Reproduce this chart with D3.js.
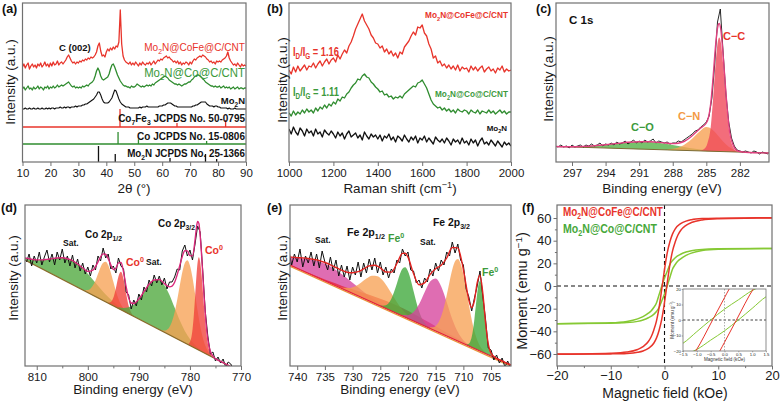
<!DOCTYPE html>
<html><head><meta charset="utf-8">
<script src="https://cdn.jsdelivr.net/npm/d3@7"></script>
<style>body{margin:0;background:#fff;}</style>
</head><body>
<script>
// ================= DATA =================
// (a) XRD, 2θ from 10 to 90 step 0.5
const xrdStart = 10, xrdStep = 0.5;
const xrdCoFe = [95,98,94,97,99,93,96,98,95,97, 94,98,96,99,95,97,100,96,98,95, 99,96,100,97,98,101,97,99,100,98,
 100,102,105,107,104,101,99,100,98,100, 99,101,100,102,101,103,102,104,103,105, 104,105,107,110,116,119,111,106,107,105,
 110,113,111,114,112,115,113,116,115,120, 152,118,106,102,100,99,98,100,97,99, 97,100,98,96,99,97,100,98,97,99,
 98,100,97,99,101,98,100,102,101,103, 102,104,105,106,104,105,103,102,100,101, 99,101,98,100,97,99,98,100,99,97,
 100,98,101,103,102,104,105,106,105,107, 106,105,103,102,100,101,99,100,98,101, 100,101,100,102,103,104,106,110,104,101,
 99,97,98,96,99,97,95,98,96,97, 96];
const xrdCo = [73,75,72,74,76,73,74,72,75,73, 74,76,73,75,74,72,75,74,76,73, 75,74,76,74,75,77,75,76,77,76,
 77,78,79,80,78,76,75,76,74,75, 74,75,74,76,75,76,77,76,78,79, 80,82,86,91,94,91,86,83,82,83,
 84,85,88,93,97,98,95,91,87,84, 81,79,77,76,76,75,75,74,76,75, 75,76,78,77,76,75,76,75,76,77,
 76,77,76,78,77,79,80,81,82,83, 84,85,86,85,84,82,81,80,79,78, 78,77,78,77,76,77,78,78,79,80,
 80,82,83,85,86,87,87,86,85,83, 82,80,79,78,77,76,76,75,76,75, 75,76,74,75,76,74,75,74,75,73,
 74,75,73,74,75,73,74,74,73,74, 74];
const xrdMo2N = [53,53,54,53,53,54,53,53,54,53, 53,54,53,53,54,53,53,54,53,54, 53,54,54,53,54,54,54,55,54,54,
 55,54,55,55,54,55,55,55,56,55, 56,56,56,57,57,58,58,59,60,61, 62,63,65,67,70,70,67,63,60,59,
 59,59,60,62,64,68,72,71,67,63, 60,58,57,56,55,55,55,54,54,54, 54,54,54,54,55,54,55,55,55,56,
 55,55,55,55,55,55,55,55,56,56, 56,57,57,58,59,59,59,58,57,56, 56,55,55,55,55,55,55,55,55,55,
 55,55,56,56,57,57,58,59,60,60, 60,60,58,57,56,56,56,55,56,56, 55,55,54,54,54,54,54,53,54,53,
 53,53,54,53,53,53,53,53,53,53, 53];
// reference patterns (position, relative intensity)
const co7fe3Pos = [44.9, 65.3, 82.7], co7fe3Int = [100, 22, 38];
const coPos = [44.2, 51.5, 75.9], coInt = [100, 40, 25];
const mo2nPos = [37.2, 43.2, 62.8, 75.5, 79.5], mo2nInt = [100, 50, 25, 50, 18];
const xrdTicks = [10,20,30,40,50,60,70,80,90];

// (b) Raman, 1000..2000 step 10
const ramanStart = 1000, ramanStep = 10;
const ramanCoFe = [92,88,95,90,96,91,94,97,92,96, 95,99,94,98,101,96,100,103,98,102, 104,100,107,103,108,112,109,116,120,126,
 133,138,143,148,141,137,133,127,124,119, 118,114,116,110,113,108,111,106,109,104, 110,108,115,118,121,126,130,127,135,134,
 137,129,126,118,113,104,106,99,101,96, 98,94,97,93,96,92,97,91,95,93, 94,90,96,92,95,91,94,96,90,93,
 95,91,93,89,94,92,96,90,93,91, 92];
const ramanCo = [49,46,51,47,50,48,52,49,53,50, 52,49,54,51,55,53,57,54,58,56, 60,58,63,61,65,64,68,70,74,77,
 79,83,82,86,88,85,84,80,78,75, 73,70,71,67,68,65,66,63,65,64, 66,64,68,70,72,74,76,75,79,80,
 82,78,74,68,62,58,56,54,55,52, 54,51,53,50,52,49,53,51,50,52, 51,48,52,50,49,52,48,51,50,49,
 52,49,51,48,50,52,49,51,48,50, 50];
const ramanMo2N = [33,28,35,30,27,34,31,26,33,29, 31,26,33,28,30,25,32,29,27,31, 28,24,30,26,29,23,28,31,25,27,
 29,24,27,22,30,26,23,28,25,27, 23,27,21,26,24,28,22,25,20,26, 24,21,27,23,20,25,22,26,19,24,
 22,26,20,24,21,18,25,22,20,23, 19,24,21,17,23,20,22,18,24,19, 21,17,23,19,22,16,21,24,18,20,
 17,22,19,16,21,18,15,20,17,19, 16];
const ramanTicks = [1000,1200,1400,1600,1800,2000];

// (c) C 1s, 298.5 down to 279.5 step 0.25
const c1sStart = 298.5, c1sStep = -0.25;
const c1sData = [16,15,17,15,16,14,17,15,16,17, 15,17,16,18,16,17,19,16,18,17, 19,17,20,18,19,21,18,20,22,19,
 21,19,22,20,21,23,19,21,20,19, 20,18,19,19,21,20,22,24,26,28, 31,32,35,37,40,46,64,98,140,153,
 110,68,40,24,16,12,11,10,11,10, 9,11,10,8,10,9,8];
const c1sBackground = [[298.5,15.5],[279.4,9]];
const c1sCC = [[285.6,0],[285.2,2],[284.9,8],[284.6,25],[284.4,52],[284.2,84],[284.0,108],[283.85,114],[283.7,109],[283.5,88],[283.3,60],[283.1,34],[282.9,16],[282.6,5],[282.2,0]];
const c1sCN = [[288.5,0.5],[288,1.2],[287.5,2.8],[287,5.5],[286.5,9.5],[286,15],[285.5,20.5],[285,24],[284.5,22],[284,16.5],[283.5,10],[283,5],[282.5,2],[282,0.6],[281.5,0]];
const c1sCO = [[298,0.1],[297.5,0.3],[296.5,0.7],[295.5,1.5],[294.5,2.6],[293.5,4.2],[292.5,5.8],[291.5,7.0],[290.5,7.5],[289.5,7.0],[288.5,5.8],[287.5,4.2],[286.5,2.6],[285.5,1.5],[284.5,0.7],[283.5,0.3],[282.5,0]];
const c1sEnvelope = [[298.5,15.6],[297,15.2],[296,15.6],[295,16.3],[294,17.3],[293,18.5],[292,19.7],[291,20.3],[290,20.2],[289,19.4],[288,18.4],[287.5,18.8],[287,20.5],[286.5,24],[286,29],[285.5,34],[285,39],[284.8,45],[284.6,59],[284.4,84],[284.2,113],[284.0,134],[283.85,138.5],[283.7,132],[283.5,107],[283.3,77],[283.1,49],[282.9,29],[282.6,17],[282.2,11],[281.5,9.8],[279.4,9]];
const c1sTicks = [297,294,291,288,285,282];

// (d) Co 2p, 812 down to 770 step 0.5
const co2pStart = 812, co2pStep = -0.5;
const co2pData = [104,112,100,110,103,114,101,109,116,104, 112,101,114,106,117,103,110,100,111,98,
 107,95,103,92,99,90,101,96,110,105, 118,108,112,97,100,93,108,100,97,74,
 71,57,66,60,72,66,79,74,86,80, 91,83,90,81,88,77,84,84,89,97,
 96,115,121,110,116,106,122,140,134,96, 55,30,12,14,5,9,3,7,-1,4, 2,-3,-5,-2,-6];
const co2pBackground = [[812.3,106],[770,-6]];
const co2pSat1 = [[813,1.5],[812,2.5],[811,4.1],[810,6.2],[809,8.8],[808,12],[807,15.4],[806,18.7],[805,21.5],[804,23.3],[803,24],[802,23.3],[801,21.5],[800,18.7],[799,15.4],[798,12],[797,8.8],[796,6.2],[795,4.1],[794,2.5],[793,1.5],[792,0.8],[791,0.4]];
const co2p12 = [[800.5,1.1],[800,2.5],[799.5,5.2],[799,9.7],[798.5,16],[798,24],[797.5,32],[797,37.8],[796.5,40],[796,37.8],[795.5,32],[795,24],[794.5,16],[794,9.7],[793.5,5.2],[793,2.5],[792.5,1.1]];
const co2pCo0a = [[796,0.5],[795.5,2.4],[795,8],[794.5,19],[794,32],[793.5,38],[793,32],[792.5,19],[792,8],[791.5,2.4],[791,0.5]];
const co2pSat2 = [[794,1.3],[793,3.1],[792,6.5],[791,12],[790,20],[789,30],[788,40],[787,47],[786,50],[785,47],[784,40],[783,30],[782,20],[781,12],[780,6.5],[779,3.1],[778,1.3]];
const co2p32 = [[785.5,0.7],[785,1.7],[784.5,3.9],[784,8],[783.5,15],[783,25.3],[782.5,39],[782,54.5],[781.5,69.3],[781,80],[780.5,84],[780,80],[779.5,69.3],[779,54.5],[778.5,39],[778,25.3],[777.5,15],[777,8],[776.5,3.9],[776,1.7],[775.5,0.7]];
const co2pCo0b = [[780.25,1.2],[780,3.4],[779.75,8.1],[779.5,17.1],[779.25,31.5],[779,50.6],[778.75,71],[778.5,87],[778.25,93],[778,89],[777.75,78],[777.5,63],[777.25,46.5],[777,31.5],[776.75,19.5],[776.5,11.2],[776.25,5.8],[775.75,1.2],[775.25,0]];
const co2pEnvelope = [[812.3,108],[811,106.7],[810,106.1],[809,106.1],[808,106.6],[807,107.4],[806,108],[805,108.2],[804,107.3],[803,105.4],[802,102],[801,98],[800,94.6],[799,95.9],[798,104.1],[797.5,109.2],[797,112.1],[796.5,111.8],[796,107.4],[795.5,101.1],[795,96.4],[794.5,97.8],[794,103.1],[793.5,103.5],[793,94],[792.5,79.4],[792,68.1],[791.5,63],[791,62.5],[790,67],[789,74.3],[788,81.7],[787,86],[786,86.4],[785,82.4],[784,79.1],[783.5,79.8],[783,83.7],[782.5,91.1],[782,100.3],[781.5,109.6],[781,115.2],[780.5,115.1],[780,110.4],[779.5,110.1],[779,126],[778.75,137.5],[778.5,144.6],[778.25,142.6],[778,130.8],[777.75,113.6],[777.5,92.7],[777.25,71.3],[777,52.6],[776.75,37.2],[776.5,26.4],[776,14.7],[775.5,9.9],[775,7.3],[774,4.7],[773,2],[772,-0.6],[770,-5.8]];
const co2pTicks = [810,800,790,780,770], co2pMinor = [805,795,785,775];

// (e) Fe 2p, 741.5 down to 701.5 step 0.5
const fe2pStart = 741.5, fe2pStep = -0.5;
const fe2pData = [115,101,112,104,117,99,110,103,114,100, 112,98,115,104,96,109,95,106,90,101,
 89,100,86,99,91,104,89,103,93,107, 96,108,93,104,91,99,88,97,93,106,
 103,117,110,114,96,95,83,86,78,88, 84,97,90,103,95,106,101,114,110,124,
 113,122,106,101,77,69,55,68,80,95, 70,47,18,16,6,11,3,8,-1,5, -2];
const fe2pBackground = [[741.3,101],[701.4,0.9]];
const fe2pSat1 = [[742,6.6],[741,8.5],[740,10.5],[739,12.5],[738,14.3],[737,15.7],[736,16.7],[735,17],[734,16.7],[733,15.7],[732,14.3],[731,12.5],[730,10.5],[729,8.5],[728,6.6],[727,4.9],[726,3.6],[725,2.5],[724,1.6],[723,1.1],[721,0.4],[719,0]];
const fe2pBroad = [[742,0.1],[740,0.24],[738,0.5],[736,1.0],[734,1.7],[732,2.7],[730,4],[728,5.4],[726,6.7],[724,7.7],[722,8],[720,7.7],[718,6.7],[716,5.4],[714,4],[712,2.7],[710,1.7],[708,1.0],[706,0.5],[704,0.24],[702,0.1]];
const fe2p12 = [[733.5,0.2],[732.5,0.7],[731.5,1.8],[730.5,4.2],[729.5,8.3],[728.5,14.3],[727.5,21],[726.5,26.4],[725.5,28.5],[724.5,26.4],[723.5,21],[722.5,14.3],[721.5,8.3],[720.5,4.2],[719.5,1.8],[718.5,0.7],[717.5,0.2]];
const fe2pFe0a = [[725,0.55],[724.5,1.35],[724,3.1],[723.5,6.5],[723,12.2],[722.5,20.3],[722,30],[721.5,40],[721,47.3],[720.5,50],[720,47.3],[719.5,40],[719,30],[718.5,20.3],[718,12.2],[717.5,6.5],[717,3.1],[716.5,1.35],[716,0.55]];
const fe2pSat2 = [[722,0],[721,0.9],[720,3.3],[719,8.9],[718,19.3],[717,33.7],[716,47],[715,52.5],[714,47],[713,33.7],[712,19.3],[711,8.9],[710,3.3],[709,0.9],[708,0]];
const fe2p32 = [[716,1.1],[715.5,2.5],[715,5.1],[714.5,9.8],[714,17.2],[713.5,27.8],[713,41],[712.5,55.5],[712,69],[711.5,78.6],[711,82],[710.5,78.6],[710,69],[709.5,55.5],[709,41],[708.5,27.8],[708,17.2],[707.5,9.8],[707,5.1],[706.5,2.5],[706,1.1]];
const fe2pFe0b = [[709.5,0.3],[709,2.3],[708.75,5.1],[708.5,10.2],[708.25,18.4],[708,29.8],[707.75,43.3],[707.5,56.5],[707.25,66.4],[707,70],[706.75,66.4],[706.5,56.5],[706.25,43.3],[706,29.8],[705.75,18.4],[705.5,10.2],[705.25,5.1],[705,2.3],[704.5,0.3]];
const fe2pEnvelope = [[741.5,109.2],[741,108.9],[740,108.4],[739,108.1],[738,107.5],[737,106.6],[736,105.4],[735,103.5],[734,101.2],[733,98.5],[732,95.9],[731,93.8],[730,93.2],[729,94.3],[728,97.1],[727,100.1],[726,100.7],[725,98.2],[724,94],[723,93.9],[722,102.5],[721,112.6],[720.5,112.7],[720,108.9],[719,92.4],[718,81.2],[717,83.1],[716,91.6],[715,97.3],[714,100.7],[713,108],[712,118.5],[711,118.1],[710.5,109.9],[710,96.5],[709.5,80.6],[709,65.6],[708.5,58.4],[708,65.5],[707.5,83.4],[707,90.9],[706.5,73.4],[706,43.8],[705.5,21.8],[705,12.6],[704,7.7],[703,5.1],[702,2.4],[701.4,0.9]];
const fe2pTicks = [740,735,730,725,720,715,710,705];

// (f) magnetic hysteresis (field kOe, moment emu/g)
const cofeUpH = [-20,-15,-10,-7,-5,-4,-3,-2.5,-2,-1.5,-1.04,-0.43,0,0.17,0.5,1,1.5,2,3,4,5,7,10,15,20];
const cofeUpM = [-60,-59.9,-59.4,-58.3,-56,-53.5,-49,-45,-39,-31,-20,0,14.4,20,29,39,46,50.5,55,57.3,58.5,59.5,59.9,60.1,60.3];
const cofeDnH = [-20,-15,-10,-7,-5,-4,-3,-2,-1.5,-1,-0.5,-0.17,0,0.43,1.04,1.5,2,2.5,3,4,5,7,10,15,20];
const cofeDnM = [-60.3,-60.1,-59.9,-59.5,-58.5,-57.3,-55,-50.5,-46,-39,-29,-20,-14.4,0,20,31,39,45,49,53.5,56,58.3,59.4,59.9,60];
const coUpH = [-20,-10,-7,-5,-4,-3,-2.5,-2,-1.5,-1,-0.5,0,0.5,1,1.5,2,3,4,5,7,10,20];
const coUpM = [-33.2,-32.5,-31.3,-29,-27,-24,-22,-19,-15,-7.5,0,7,13,19,22.5,25,28,30,31.2,32.3,32.8,33.2];
const coDnH = [-20,-10,-7,-5,-4,-3,-2,-1.5,-1,-0.5,0,0.5,1,1.5,2,2.5,3,4,5,7,10,20];
const coDnM = [-33.2,-32.8,-32.3,-31.2,-30,-28,-25,-22.5,-19,-13,-7,0,7.5,15,19,22,24,27,29,31.3,32.5,33.2];
const magXTicks = [-20,-10,0,10,20], magXMinor = [-15,-5,5,15];
const magYTicks = [-60,-40,-20,0,20,40,60], magYMinor = [-50,-30,-10,10,30,50];
const insetXTicks = [-1.5,-1,-0.5,0,0.5,1,1.5], insetYTicks = [-20,-10,0,10,20];

// ================= DRAWING =================
const FONT = '"Liberation Sans", Arial, Helvetica, sans-serif';
const FRAME = '#707070';
const RED = '#e8342b', GREEN = '#2f8c2f', GREENTXT = '#3c9a3c', LIME = '#86c934';
const svg = d3.select('body').append('svg').attr('width', 780).attr('height', 404)
  .style('font-family', FONT);

// rich text with sub/superscripts; fitW squeezes the text horizontally to a given width
function rich(x, y, parts, size, color, anchor = 'start', weight = 'bold', rotate = false, fitW = null) {
  const t = svg.append('text').attr('font-size', size).attr('fill', color)
    .attr('text-anchor', anchor).attr('font-weight', weight);
  let shift = 0;
  for (const [s, m] of parts) {
    const target = m === 'sub' ? size * 0.28 : m === 'sup' ? -size * 0.38 : 0;
    const ts = t.append('tspan').text(s);
    if (target !== shift) ts.attr('dy', target - shift);
    if (m) ts.attr('font-size', size * 0.68);
    shift = target;
  }
  let sx = 1;
  if (fitW) {
    const len = t.node().getComputedTextLength();
    if (len > 0) sx = fitW / len;
  }
  t.attr('transform', `translate(${x},${y})` + (rotate ? ' rotate(-90)' : '') + (sx !== 1 ? ` scale(${sx},1)` : ''));
  return t;
}
let cid = 0;
function panel(l, t, r, b, xd, yd) {
  const x = d3.scaleLinear().domain(xd).range([l, r]);
  const y = d3.scaleLinear().domain(yd).range([b, t]);
  const id = 'cp' + (cid++);
  svg.append('clipPath').attr('id', id).append('rect')
    .attr('x', l).attr('y', t).attr('width', r - l).attr('height', b - t);
  const g = svg.append('g').attr('clip-path', `url(#${id})`);
  return { x, y, g, l, t, r, b };
}
function frame(p, w = 1.2) {
  svg.append('rect').attr('x', p.l).attr('y', p.t).attr('width', p.r - p.l).attr('height', p.b - p.t)
    .attr('fill', 'none').attr('stroke', FRAME).attr('stroke-width', w);
}
function styleAxis(g, size, lw = 1) {
  g.select('.domain').remove();
  g.selectAll('line').attr('stroke', FRAME).attr('stroke-width', lw);
  g.selectAll('text').attr('font-size', size).attr('fill', '#1a1a1a').attr('font-family', FONT);
}
function xAxis(p, ticks, minor, size, fmt, len = 4, pad = 2.5, lw = 1) {
  const g = svg.append('g').attr('transform', `translate(0,${p.b})`)
    .call(d3.axisBottom(p.x).tickValues(ticks).tickSize(len).tickPadding(pad).tickFormat(fmt || (d => d)));
  styleAxis(g, size, lw);
  if (minor) {
    const m = svg.append('g').attr('transform', `translate(0,${p.b})`)
      .call(d3.axisBottom(p.x).tickValues(minor).tickSize(len * 0.6).tickFormat(''));
    styleAxis(m, size, lw);
  }
}
function yAxis(p, ticks, minor, size, fmt, len = 4, pad = 2.5, lw = 1) {
  const g = svg.append('g').attr('transform', `translate(${p.l},0)`)
    .call(d3.axisLeft(p.y).tickValues(ticks).tickSize(len).tickPadding(pad).tickFormat(fmt || (d => d)));
  styleAxis(g, size, lw);
  if (minor) {
    const m = svg.append('g').attr('transform', `translate(${p.l},0)`)
      .call(d3.axisLeft(p.y).tickValues(minor).tickSize(len * 0.6).tickFormat(''));
    styleAxis(m, size, lw);
  }
}
const grid = (start, step, vals) => vals.map((v, i) => [start + step * i, v]);
function line(p, data, color, w, curve) {
  const ln = d3.line().x(d => p.x(d[0])).y(d => p.y(d[1]));
  if (curve) ln.curve(curve);
  p.g.append('path').attr('d', ln(data)).attr('fill', 'none').attr('stroke', color)
    .attr('stroke-width', w).attr('stroke-linejoin', 'round');
}
function comp(p, data, base, color, op = 0.78) {
  const ar = d3.area().x(d => p.x(d[0])).y0(d => p.y(base(d[0]))).y1(d => p.y(base(d[0]) + d[1]))
    .curve(d3.curveMonotoneX);
  p.g.append('path').attr('d', ar(data)).attr('fill', color).attr('fill-opacity', op).attr('stroke', 'none');
}
const bgScale = pts => d3.scaleLinear().domain([pts[0][0], pts[1][0]]).range([pts[0][1], pts[1][1]]);
const M2N = () => [['Mo', ''], ['2', 'sub'], ['N', '']];
const AX = '#1a1a1a';

// ---------- (a) XRD ----------
{
  const p = panel(22.5, 3, 246, 162, [10, 90], [0, 159]);
  const sticks = (pos, inten, level, k, color) => {
    p.g.selectAll(null).data(pos.map((d, i) => [d, inten[i]])).enter().append('line')
      .attr('x1', d => p.x(d[0])).attr('x2', d => p.x(d[0]))
      .attr('y1', p.y(level)).attr('y2', d => p.y(level + d[1] * k))
      .attr('stroke', color).attr('stroke-width', 1.3);
  };
  p.g.append('line').attr('x1', p.l).attr('x2', p.r).attr('y1', p.y(35)).attr('y2', p.y(35)).attr('stroke', RED).attr('stroke-width', 1.4);
  p.g.append('line').attr('x1', p.l).attr('x2', p.r).attr('y1', p.y(18)).attr('y2', p.y(18)).attr('stroke', GREEN).attr('stroke-width', 1.4);
  sticks(co7fe3Pos, co7fe3Int, 35, 0.18, RED);
  sticks(coPos, coInt, 18, 0.12, GREEN);
  sticks(mo2nPos, mo2nInt, 0, 0.16, '#111');
  line(p, grid(xrdStart, xrdStep, xrdMo2N), '#111', 1.1);
  line(p, grid(xrdStart, xrdStep, xrdCo), GREEN, 1.3);
  line(p, grid(xrdStart, xrdStep, xrdCoFe), RED, 1.3);
  frame(p);
  xAxis(p, xrdTicks, null, 11.5);
  rich(2, 13, [['(a)', '']], 12.5, '#111');
  rich(59, 51, [['C (002)', '']], 9.5, '#111');
  rich(245, 51, [...M2N(), ['@CoFe@C/CNT', '']], 11, RED, 'end', 'normal', false, 101);
  rich(245, 77, [...M2N(), ['@Co@C/CNT', '']], 12, GREENTXT, 'end', 'normal', false, 101);
  rich(245, 104, M2N(), 9.5, '#111', 'end');
  rich(245, 122, [['Co', ''], ['7', 'sub'], ['Fe', ''], ['3', 'sub'], [' JCPDS No. 50-0795', '']], 10, '#111', 'end', 'bold', false, 127);
  rich(245, 140, [['Co JCPDS No. 15-0806', '']], 10, '#111', 'end', 'bold', false, 108);
  rich(245, 157, [...M2N(), [' JCPDS No. 25-1366', '']], 10, '#111', 'end', 'bold', false, 118);
  rich(134, 193, [['2θ (°)', '']], 13.5, AX, 'middle', 'normal');
  rich(15, 82, [['Intensity (a.u.)', '']], 13.5, AX, 'middle', 'normal', true);
}

// ---------- (b) Raman ----------
{
  const p = panel(289, 3, 511, 162, [1000, 2000], [0, 159]);
  line(p, grid(ramanStart, ramanStep, ramanMo2N), '#111', 1.3);
  line(p, grid(ramanStart, ramanStep, ramanCo), GREEN, 1.3);
  line(p, grid(ramanStart, ramanStep, ramanCoFe), RED, 1.3);
  frame(p);
  xAxis(p, ramanTicks, null, 11.5);
  rich(267, 13, [['(b)', '']], 12.5, '#111');
  rich(508, 18, [...M2N(), ['@CoFe@C/CNT', '']], 9, RED, 'end', 'bold', false, 83);
  rich(293, 56, [['I', ''], ['D', 'sub'], ['/I', ''], ['G', 'sub'], [' = 1.16', '']], 12, RED, 'start', 'bold', false, 46);
  rich(293, 96, [['I', ''], ['D', 'sub'], ['/I', ''], ['G', 'sub'], [' = 1.11', '']], 12, GREENTXT, 'start', 'bold', false, 46);
  rich(508, 97, [...M2N(), ['@Co@C/CNT', '']], 9.5, GREENTXT, 'end', 'bold', false, 73);
  rich(507, 131, M2N(), 8, '#111', 'end');
  rich(400, 193, [['Raman shift (cm', ''], ['−1', 'sup'], [')', '']], 13.5, AX, 'middle', 'normal');
  rich(287, 80, [['Intensity (a.u.)', '']], 13.5, AX, 'middle', 'normal', true);
}

// ---------- (c) C 1s ----------
{
  const p = panel(556, 3, 769, 162, [298.43, 279.4], [0, 159]);
  const base = bgScale(c1sBackground);
  comp(p, c1sCO, base, '#55b347', 0.8);
  comp(p, c1sCN, base, '#f7a154', 0.8);
  comp(p, c1sCC, base, '#f0485a', 0.8);
  line(p, c1sBackground, '#7d6b35', 1);
  line(p, grid(c1sStart, c1sStep, c1sData), '#111', 0.9);
  line(p, c1sEnvelope, '#e0407f', 1.4, d3.curveMonotoneX);
  frame(p);
  xAxis(p, c1sTicks, null, 11.5);
  rich(536, 13, [['(c)', '']], 12.5, '#111');
  rich(569, 24, [['C 1s', '']], 11.5, '#111');
  rich(723, 40, [['C−C', '']], 11, RED);
  rich(678, 120, [['C−N', '']], 11, '#f39a45');
  rich(631, 131, [['C−O', '']], 11, GREENTXT);
  rich(662, 193, [['Binding energy (eV)', '']], 13.5, AX, 'middle', 'normal');
  rich(553, 79, [['Intensity (a.u.)', '']], 13.5, AX, 'middle', 'normal', true);
}

// ---------- (d) Co 2p ----------
{
  const p = panel(25, 205, 241, 366, [812.3, 770], [0, 161]);
  const base = bgScale(co2pBackground);
  comp(p, co2pSat1, base, '#4ea83c');
  comp(p, co2p12, base, '#f7a154');
  comp(p, co2pCo0a, base, '#f0403a');
  comp(p, co2pSat2, base, '#4ea83c');
  comp(p, co2p32, base, '#f7a154');
  comp(p, co2pCo0b, base, '#f0403a');
  line(p, co2pBackground, '#8a6a2a', 1.2);
  line(p, grid(co2pStart, co2pStep, co2pData), '#111', 1);
  line(p, co2pEnvelope, '#d9287a', 1.4, d3.curveMonotoneX);
  frame(p);
  xAxis(p, co2pTicks, co2pMinor, 11.5);
  rich(1, 212, [['(d)', '']], 12.5, '#111');
  rich(63, 246, [['Sat.', '']], 8.5, '#111');
  rich(85, 238, [['Co 2p', ''], ['1/2', 'sub']], 11.5, '#111', 'start', 'bold', false, 37);
  rich(126, 266, [['Co', ''], ['0', 'sup']], 10.5, RED);
  rich(146, 265, [['Sat.', '']], 8.5, '#111');
  rich(158, 227, [['Co 2p', ''], ['3/2', 'sub']], 11.5, '#111', 'start', 'bold', false, 37);
  rich(205, 254, [['Co', ''], ['0', 'sup']], 10.5, RED);
  rich(133, 394, [['Binding energy (eV)', '']], 13.5, AX, 'middle', 'normal');
  rich(18, 278, [['Intensity (a.u.)', '']], 13.5, AX, 'middle', 'normal', true);
}

// ---------- (e) Fe 2p ----------
{
  const p = panel(290, 205, 511, 366, [741.3, 701.4], [0, 161]);
  const base = bgScale(fe2pBackground);
  comp(p, fe2pSat1, base, '#d6449c');
  comp(p, fe2pBroad, base, '#e62a48', 0.85);
  comp(p, fe2p12, base, '#f7a154');
  comp(p, fe2pFe0a, base, '#3ea83a');
  comp(p, fe2pSat2, base, '#d6449c');
  comp(p, fe2p32, base, '#f7a154');
  comp(p, fe2pFe0b, base, '#3ea83a');
  line(p, fe2pBackground.map(d => [d[0], d[1] - 1.3]), '#e8973a', 1.2);
  line(p, fe2pBackground, '#e5233a', 1.2);
  line(p, grid(fe2pStart, fe2pStep, fe2pData), '#111', 1);
  line(p, fe2pEnvelope, '#e3221f', 1.4, d3.curveMonotoneX);
  frame(p);
  xAxis(p, fe2pTicks, null, 11.5);
  rich(267, 212, [['(e)', '']], 12.5, '#111');
  rich(315, 243, [['Sat.', '']], 8.5, '#111');
  rich(347, 236, [['Fe 2p', ''], ['1/2', 'sub']], 11.5, '#111', 'start', 'bold', false, 38);
  rich(388, 242, [['Fe', ''], ['0', 'sup']], 10.5, GREENTXT);
  rich(420, 245, [['Sat.', '']], 8.5, '#111');
  rich(433, 226, [['Fe 2p', ''], ['3/2', 'sub']], 11.5, '#111', 'start', 'bold', false, 37);
  rich(482, 276, [['Fe', ''], ['0', 'sup']], 10.5, GREENTXT);
  rich(400, 394, [['Binding energy (eV)', '']], 13.5, AX, 'middle', 'normal');
  rich(287, 278, [['Intensity (a.u.)', '']], 13.5, AX, 'middle', 'normal', true);
}

// ---------- (f) magnetization ----------
{
  const p = panel(557, 205, 772, 366, [-20, 20], [-70.6, 71.5]);
  const zip = (a, b) => a.map((v, i) => [v, b[i]]);
  p.g.append('line').attr('x1', p.l).attr('x2', p.r).attr('y1', p.y(0)).attr('y2', p.y(0))
    .attr('stroke', '#111').attr('stroke-width', 1.1).attr('stroke-dasharray', '4,3');
  p.g.append('line').attr('x1', p.x(0)).attr('x2', p.x(0)).attr('y1', p.t).attr('y2', p.b)
    .attr('stroke', '#111').attr('stroke-width', 1.1).attr('stroke-dasharray', '4,3');
  const mc = d3.curveMonotoneX;
  line(p, zip(coUpH, coUpM), LIME, 1.5, mc);
  line(p, zip(coDnH, coDnM), LIME, 1.5, mc);
  line(p, zip(cofeUpH, cofeUpM), RED, 1.5, mc);
  line(p, zip(cofeDnH, cofeDnM), RED, 1.5, mc);
  frame(p);
  xAxis(p, magXTicks, magXMinor, 13, d3.format('d'), 3.5, 1.5);
  yAxis(p, magYTicks, magYMinor, 13, d3.format('d'), 3.5, 2);
  rich(522, 212, [['(f)', '']], 12.5, '#111');
  rich(563, 216, [...M2N(), ['@CoFe@C/CNT', '']], 12, RED, 'start', 'bold', false, 100);
  rich(563, 233, [...M2N(), ['@Co@C/CNT', '']], 12, '#47a83a', 'start', 'bold', false, 94);
  rich(665, 398, [['Magnetic field (kOe)', '']], 14, AX, 'middle', 'normal');
  rich(527, 291, [['Moment (emu g', ''], ['−1', 'sup'], [')', '']], 14.5, AX, 'middle', 'normal', true);

  // inset
  svg.append('rect').attr('x', 683).attr('y', 289).attr('width', 83).attr('height', 62).attr('fill', '#fff');
  const q = panel(683, 289, 766, 351, [-1.5, 1.5], [-20, 20]);
  q.g.append('line').attr('x1', q.l).attr('x2', q.r).attr('y1', q.y(0)).attr('y2', q.y(0))
    .attr('stroke', '#111').attr('stroke-width', 0.8).attr('stroke-dasharray', '2.5,2');
  q.g.append('line').attr('x1', q.x(0)).attr('x2', q.x(0)).attr('y1', q.t).attr('y2', q.b)
    .attr('stroke', '#999').attr('stroke-width', 0.8).attr('stroke-dasharray', '1.5,1.5');
  line(q, zip(coUpH, coUpM), LIME, 1, mc);
  line(q, zip(coDnH, coDnM), LIME, 1, mc);
  line(q, zip(cofeUpH, cofeUpM), RED, 1, mc);
  line(q, zip(cofeDnH, cofeDnM), RED, 1, mc);
  frame(q, 0.8);
  xAxis(q, insetXTicks, null, 4.2, d3.format('.1f'), 1.3, 0.8, 0.6);
  yAxis(q, insetYTicks, null, 4.2, d3.format('d'), 1.3, 0.8, 0.6);
  rich(724.5, 361, [['Magnetic field (kOe)', '']], 4.6, '#333', 'middle', 'normal');
  rich(674, 320, [['Moment (emu g', ''], ['−1', 'sup'], [')', '']], 4.6, '#333', 'middle', 'normal', true);
}
</script>
</body></html>
